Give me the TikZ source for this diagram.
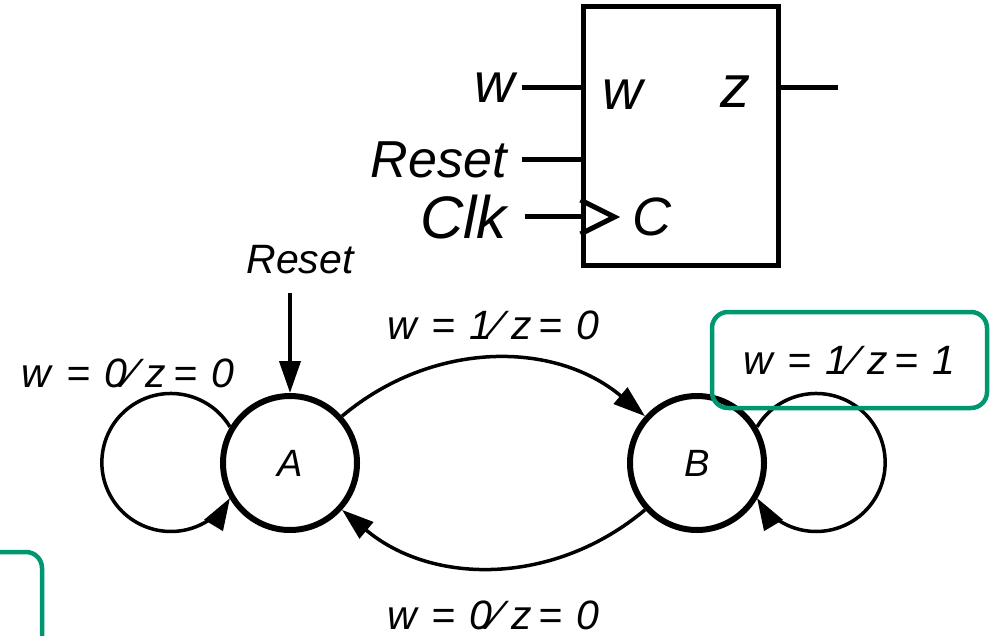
\documentclass[tikz,border=0pt]{standalone}
\usepackage{fontspec}
\setmainfont{Liberation Sans}
\usepackage{xcolor}
\usetikzlibrary{arrows.meta,positioning,calc}
\definecolor{boxgreen}{RGB}{0,150,112}
\newcommand{\io}[2]{w\hspace{15pt}=\hspace{14pt}#1\hspace{2pt}⁄\hspace{10pt}z\hspace{7pt}=\hspace{14pt}#2}

\begin{document}
\begin{tikzpicture}[x=1pt, y=1pt,
  state/.style={circle, draw, line width=6pt, minimum size=134pt, inner sep=0pt,
                font=\fontsize{38}{40}\selectfont\itshape},
  lbl/.style={font=\fontsize{41}{43}\selectfont\itshape, inner sep=0pt},
  pin/.style={font=\fontsize{56}{60}\selectfont\itshape, inner sep=0pt},
  arr/.style={-{Triangle[length=32pt, width=21pt]}, line width=3.5pt},
  wire/.style={line width=5pt},
  hl/.style={draw=boxgreen, line width=4.5pt, rounded corners=16pt}]
  \useasboundingbox (0,0) rectangle (992,-636);
  \clip (0,0) rectangle (992,-636);
  % circuit block
  \node[draw, line width=5pt, minimum width=195pt, minimum height=258pt, inner sep=0pt] (fsm) at (680.5,-136) {};
  \coordinate (wIn) at (522,-88);
  \coordinate (rIn) at (522,-160);
  \coordinate (cIn) at (525,-217);
  \coordinate (zOut) at (838,-88);
  \node[pin, left=7pt of wIn] (wLbl) {w};
  \node[pin, font=\fontsize{52}{54}\selectfont\itshape, left=15pt of rIn] (rLbl) {Reset};
  \node[pin, font=\fontsize{60}{62}\selectfont\itshape, left=18pt of cIn] (cLbl) {Clk};
  \node[pin] (wPort) at (623,-95) {w};
  \node[pin, font=\fontsize{60}{62}\selectfont\itshape] (zPort) at (735,-92) {z};
  \node[pin, font=\fontsize{54}{56}\selectfont\itshape] (cPort) at (652,-217) {C};
  \draw[wire] (wIn) -- (wIn -| fsm.west);
  \draw[wire] (rIn) -- (rIn -| fsm.west);
  \draw[wire] (cIn) -- (cIn -| fsm.west);
  \draw[wire] (zOut -| fsm.east) -- (zOut);
  \draw[wire] ($(cIn -| fsm.west)+(0,17)$) -- ($(cIn -| fsm.west)+(34,0)$) -- ($(cIn -| fsm.west)+(0,-17)$);
  % state diagram
  \node[state] (A) at (290,-463) {A};
  \node[state] (B) at (697,-463) {B};
  \node[lbl] (rst) at (300,-260) {Reset};
  \coordinate (rstTop) at (290,-293);
  \draw[arr, line width=4pt] (rstTop) -- (A.north);
  \draw[arr] (A.42) to[bend left=40] node[lbl, midway, above=18pt] {\io{1}{0}} (B.138);
  \draw[arr] (B.222) to[bend left=40] node[lbl, midway, below=32pt] {\io{0}{0}} (A.318);
  \draw[arr] (A.149) arc[start angle=31, end angle=329, radius=69];
  \node[lbl] (loopA) at (128,-373) {\io{0}{0}};
  \draw[arr] (B.31) arc[start angle=149, end angle=-149, radius=69];
  \node[lbl, hl, minimum width=275pt, minimum height=96pt] (loopB) at (849.5,-360) {\io{1}{1}};
  \node[hl, minimum width=90pt, minimum height=160pt] (cut) at (-3,-632) {};
\end{tikzpicture}
\end{document}
